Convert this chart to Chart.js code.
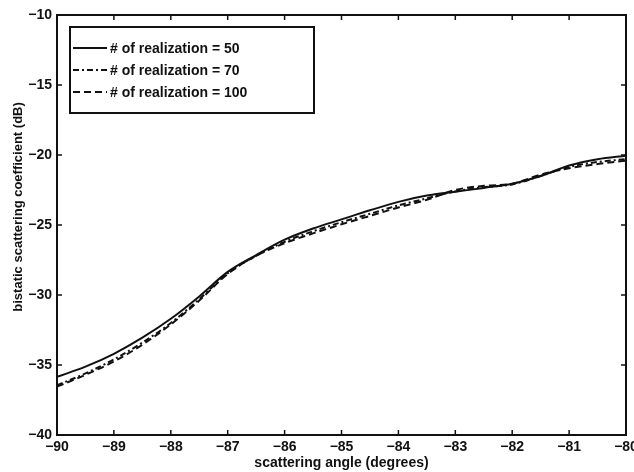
<!DOCTYPE html>
<html>
<head>
<meta charset="utf-8">
<script src="https://cdn.jsdelivr.net/npm/chart.js@4/dist/chart.umd.min.js"></script>
<style>
  html, body { margin: 0; padding: 0; background: #fff; }
  canvas { display: block; }
</style>
</head>
<body>
<canvas id="chart" width="634" height="472"></canvas>
<script>
// ── Data ──────────────────────────────────────────────────────────────
const angles = [-90, -89.5, -89, -88.5, -88, -87.5, -87, -86.5, -86, -85.5, -85,
                -84.5, -84, -83.5, -83, -82.5, -82, -81.5, -81, -80.5, -80];

const real50  = [-35.85, -35.12, -34.2, -33.05, -31.7, -30.1, -28.35, -27.15, -26.05, -25.25, -24.6,
                 -23.95, -23.35, -22.9, -22.62, -22.35, -22.05, -21.5, -20.75, -20.3, -20.05];
const real70  = [-36.45, -35.6, -34.6, -33.4, -32.0, -30.3, -28.45, -27.2, -26.2, -25.45, -24.8,
                 -24.2, -23.6, -23.1, -22.6, -22.3, -22.1, -21.5, -20.85, -20.5, -20.3];
const real100 = [-36.55, -35.7, -34.75, -33.55, -32.1, -30.4, -28.5, -27.2, -26.3, -25.6, -24.95,
                 -24.35, -23.75, -23.2, -22.5, -22.2, -22.05, -21.4, -20.95, -20.65, -20.4];

const seriesLabels = ['# of realization = 50', '# of realization = 70', '# of realization = 100'];
const xTicks = [-90, -89, -88, -87, -86, -85, -84, -83, -82, -81, -80];
const yTicks = [-40, -35, -30, -25, -20, -15, -10];
const yTitle = 'bistatic scattering coefficient (dB)';
const xTitle = 'scattering angle (degrees)';

const FONT = '"Liberation Sans", Arial, sans-serif';
const INK  = '#111';

const toPts = (ys) => ys.map((y, i) => ({ x: angles[i], y }));
const fmtTick = (v) => (v < 0 ? '\u2212' : '') + Math.abs(v);

// ── Plugins: white bg, MATLAB-style frame + inward ticks, boxed legend ──
const whiteBg = {
  id: 'whiteBg',
  beforeDraw(chart) {
    const c = chart.ctx;
    c.save();
    c.fillStyle = '#fff';
    c.fillRect(0, 0, chart.width, chart.height);
    c.restore();
  },
};

const frame = {
  id: 'frame',
  afterDraw(chart) {
    const { ctx: c, chartArea: a, scales } = chart;
    c.save();
    c.strokeStyle = INK;
    c.lineWidth = 2;
    c.strokeRect(a.left, a.top, a.right - a.left, a.bottom - a.top);
    c.lineWidth = 1.5;
    const len = 5;
    c.beginPath();
    xTicks.forEach(v => {
      const px = scales.x.getPixelForValue(v);
      c.moveTo(px, a.bottom); c.lineTo(px, a.bottom - len);
      c.moveTo(px, a.top);    c.lineTo(px, a.top + len);
    });
    yTicks.forEach(v => {
      const py = scales.y.getPixelForValue(v);
      c.moveTo(a.left, py);  c.lineTo(a.left + len, py);
      c.moveTo(a.right, py); c.lineTo(a.right - len, py);
    });
    c.stroke();

    // y axis title (sits a bit above the axis centre in the reference)
    c.translate(18, a.top + (a.bottom - a.top) * 0.457);
    c.rotate(-Math.PI / 2);
    c.font = 'bold 13px ' + FONT;
    c.fillStyle = INK;
    c.textAlign = 'center';
    c.textBaseline = 'middle';
    c.fillText(yTitle, 0, 0);
    c.restore();
  },
};

const boxLegend = {
  id: 'boxLegend',
  afterDraw(chart) {
    const c = chart.ctx;
    const a = chart.chartArea;
    const bx = a.left + 13, by = a.top + 12, bw = 244, bh = 86;
    c.save();
    c.fillStyle = '#fff';
    c.fillRect(bx, by, bw, bh);
    c.strokeStyle = INK;
    c.lineWidth = 2;
    c.strokeRect(bx, by, bw, bh);
    c.font = 'bold 14px ' + FONT;
    c.textBaseline = 'middle';
    chart.data.datasets.forEach((ds, i) => {
      const y = by + 21 + i * 22;
      c.setLineDash(ds.borderDash || []);
      c.lineWidth = ds.borderWidth;
      c.beginPath();
      c.moveTo(bx + 3, y);
      c.lineTo(bx + 37, y);
      c.stroke();
      c.setLineDash([]);
      c.fillStyle = INK;
      c.fillText(ds.label, bx + 40, y + 1);
    });
    c.restore();
  },
};

// ── Chart ─────────────────────────────────────────────────────────────
const lineDs = (label, ys, dash) => ({
  label,
  data: toPts(ys),
  borderColor: INK,
  borderWidth: 2,
  borderDash: dash,
  pointRadius: 0,
  fill: false,
  cubicInterpolationMode: 'monotone',
});

new Chart(document.getElementById('chart').getContext('2d'), {
  type: 'line',
  data: {
    datasets: [
      lineDs(seriesLabels[0], real50, []),
      lineDs(seriesLabels[1], real70, [6, 3, 2, 3]),
      lineDs(seriesLabels[2], real100, [7, 4]),
    ],
  },
  options: {
    responsive: false,
    animation: false,
    layout: { padding: { top: 15, right: 8, left: 0, bottom: 0 } },
    plugins: {
      legend: { display: false },
      tooltip: { enabled: false },
    },
    scales: {
      x: {
        type: 'linear',
        min: -90, max: -80,
        afterBuildTicks: s => { s.ticks = xTicks.map(v => ({ value: v })); },
        afterFit: s => { s.height = 37; s.paddingLeft = 0; s.paddingRight = 0; },
        grid: { display: false, drawTicks: false },
        border: { display: false },
        ticks: {
          autoSkip: false, maxRotation: 0, padding: 4,
          color: INK, font: { family: FONT, size: 14, weight: 'bold' },
          callback: fmtTick,
        },
        title: {
          display: true, text: xTitle,
          color: INK, font: { family: FONT, size: 14, weight: 'bold' },
          padding: { top: 0, bottom: 0 },
        },
      },
      y: {
        min: -40, max: -10,
        afterBuildTicks: s => { s.ticks = yTicks.map(v => ({ value: v })); },
        afterFit: s => { s.width = 57; s.paddingTop = 0; s.paddingBottom = 0; },
        grid: { display: false, drawTicks: false },
        border: { display: false },
        ticks: {
          padding: 5,
          color: INK, font: { family: FONT, size: 14, weight: 'bold' },
          callback: fmtTick,
        },
      },
    },
  },
  plugins: [whiteBg, frame, boxLegend],
});
</script>
</body>
</html>
